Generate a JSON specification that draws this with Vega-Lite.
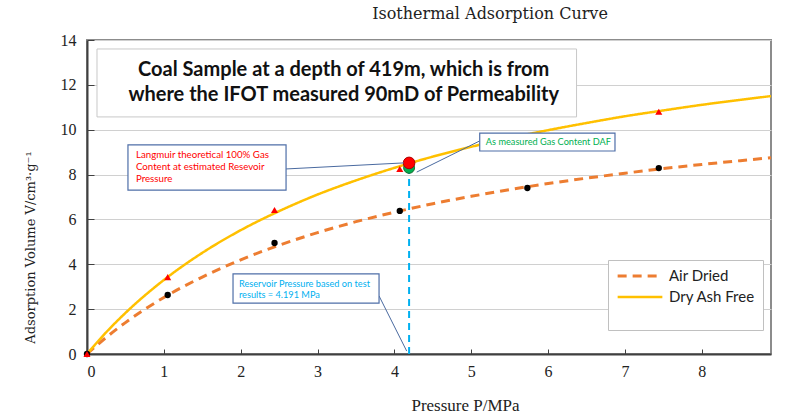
{
  "$schema": "https://vega.github.io/schema/vega-lite/v6.json",
  "width": 684,
  "height": 314,
  "autosize": {"type": "none"},
  "padding": {"left": 87, "top": 40, "right": 29, "bottom": 61},
  "background": "white",
  "title": {"text": "Isothermal Adsorption Curve", "font": "DejaVu Serif", "fontSize": 16, "fontWeight": "normal", "color": "#222222", "anchor": "middle", "dx": 61, "offset": 10},
  "config": {"view": {"stroke": "#8c8c8c", "strokeWidth": 2}},
  "datasets": {
    "curves": [
      {"series": "Air Dried", "P": 0, "V": 0},
      {"series": "Air Dried", "P": 0.25, "V": 0.74},
      {"series": "Air Dried", "P": 0.5, "V": 1.4},
      {"series": "Air Dried", "P": 1, "V": 2.52},
      {"series": "Air Dried", "P": 1.5, "V": 3.43},
      {"series": "Air Dried", "P": 2, "V": 4.2},
      {"series": "Air Dried", "P": 2.5, "V": 4.85},
      {"series": "Air Dried", "P": 3, "V": 5.41},
      {"series": "Air Dried", "P": 3.5, "V": 5.9},
      {"series": "Air Dried", "P": 4, "V": 6.32},
      {"series": "Air Dried", "P": 4.5, "V": 6.7},
      {"series": "Air Dried", "P": 5, "V": 7.03},
      {"series": "Air Dried", "P": 5.5, "V": 7.33},
      {"series": "Air Dried", "P": 6, "V": 7.6},
      {"series": "Air Dried", "P": 6.5, "V": 7.84},
      {"series": "Air Dried", "P": 7, "V": 8.06},
      {"series": "Air Dried", "P": 7.5, "V": 8.27},
      {"series": "Air Dried", "P": 8, "V": 8.45},
      {"series": "Air Dried", "P": 8.5, "V": 8.62},
      {"series": "Air Dried", "P": 8.9, "V": 8.75},
      {"series": "Dry Ash Free", "P": 0, "V": 0},
      {"series": "Dry Ash Free", "P": 0.25, "V": 0.97},
      {"series": "Dry Ash Free", "P": 0.5, "V": 1.83},
      {"series": "Dry Ash Free", "P": 1, "V": 3.3},
      {"series": "Dry Ash Free", "P": 1.5, "V": 4.51},
      {"series": "Dry Ash Free", "P": 2, "V": 5.52},
      {"series": "Dry Ash Free", "P": 2.5, "V": 6.37},
      {"series": "Dry Ash Free", "P": 3, "V": 7.11},
      {"series": "Dry Ash Free", "P": 3.5, "V": 7.74},
      {"series": "Dry Ash Free", "P": 4, "V": 8.3},
      {"series": "Dry Ash Free", "P": 4.5, "V": 8.8},
      {"series": "Dry Ash Free", "P": 5, "V": 9.24},
      {"series": "Dry Ash Free", "P": 5.5, "V": 9.63},
      {"series": "Dry Ash Free", "P": 6, "V": 9.98},
      {"series": "Dry Ash Free", "P": 6.5, "V": 10.3},
      {"series": "Dry Ash Free", "P": 7, "V": 10.6},
      {"series": "Dry Ash Free", "P": 7.5, "V": 10.86},
      {"series": "Dry Ash Free", "P": 8, "V": 11.11},
      {"series": "Dry Ash Free", "P": 8.5, "V": 11.33},
      {"series": "Dry Ash Free", "P": 8.9, "V": 11.5}
    ],
    "airPoints": [
      {"P": 0, "V": 0},
      {"P": 1.05, "V": 2.63},
      {"P": 2.44, "V": 4.95},
      {"P": 4.07, "V": 6.38},
      {"P": 5.73, "V": 7.4},
      {"P": 7.44, "V": 8.29}
    ],
    "dafPoints": [
      {"P": 0, "V": 0},
      {"P": 1.05, "V": 3.43},
      {"P": 2.44, "V": 6.42},
      {"P": 4.07, "V": 8.25},
      {"P": 7.44, "V": 10.8}
    ],
    "measured": [{"P": 4.191, "V": 8.3}],
    "langmuir": [{"P": 4.191, "V": 8.52}]
  },
  "layer": [
    {
      "data": {"name": "curves"},
      "mark": {"type": "line", "interpolate": "monotone"},
      "encoding": {
        "x": {
          "field": "P", "type": "quantitative",
          "scale": {"domain": [0, 8.9], "nice": false, "zero": true},
          "axis": {
            "values": [0, 1, 2, 3, 4, 5, 6, 7, 8], "format": "d", "grid": false,
            "labelFont": "Liberation Serif", "labelFontSize": 16, "labelColor": "#222222",
            "tickSize": -5, "tickColor": "#404040", "tickWidth": 1,
            "domainColor": "#404040", "domainWidth": 2, "labelPadding": 14,
            "title": "Pressure P/MPa", "titleFont": "Liberation Serif", "titleFontSize": 17,
            "titleFontWeight": "normal", "titleColor": "#222222", "titleX": 378, "titleY": 51,
            "titleBaseline": "middle", "titleAlign": "center"
          }
        },
        "y": {
          "field": "V", "type": "quantitative",
          "scale": {"domain": [0, 14], "nice": false},
          "axis": {
            "values": [0, 2, 4, 6, 8, 10, 12, 14], "format": "d", "grid": true, "gridColor": "#d0d0d0", "gridWidth": 1,
            "labelFont": "Liberation Serif", "labelFontSize": 16, "labelColor": "#222222",
            "tickSize": -7, "tickColor": "#404040", "tickWidth": 1,
            "domainColor": "#404040", "domainWidth": 2, "labelPadding": 18,
            "title": "Adsorption Volume  V/cm³·g⁻¹", "titleFont": "DejaVu Serif", "titleFontSize": 13,
            "titleFontWeight": "normal", "titleColor": "#222222", "titleX": -57, "titleY": 207,
            "titleAngle": -90, "titleBaseline": "middle", "titleAlign": "center"
          }
        },
        "color": {
          "field": "series", "type": "nominal",
          "scale": {"domain": ["Air Dried", "Dry Ash Free"], "range": ["#ED7D31", "#FFC000"]},
          "legend": {
            "title": " ", "orient": "none", "legendX": 521, "legendY": 220,
            "symbolType": "stroke", "symbolSize": 2000, "symbolStrokeWidth": 3, "clipHeight": 16,
            "rowPadding": 5, "labelFont": "Lato", "labelFontSize": 15, "labelColor": "#222222",
            "labelOffset": 5, "padding": 8, "fillColor": "white", "strokeColor": "#c0c0c0",
            "titleOrient": "bottom", "titleFontSize": 12, "titlePadding": 6
          }
        },
        "strokeDash": {
          "field": "series", "type": "nominal",
          "scale": {"domain": ["Air Dried", "Dry Ash Free"], "range": [[9, 6], [1, 0]]},
          "legend": {
            "title": " ", "orient": "none", "legendX": 521, "legendY": 220,
            "symbolType": "stroke", "symbolSize": 2000, "symbolStrokeWidth": 3, "clipHeight": 16,
            "rowPadding": 5, "labelFont": "Lato", "labelFontSize": 15, "labelColor": "#222222",
            "labelOffset": 5, "padding": 8, "fillColor": "white", "strokeColor": "#c0c0c0",
            "titleOrient": "bottom", "titleFontSize": 12, "titlePadding": 6
          }
        },
        "strokeWidth": {
          "field": "series", "type": "nominal",
          "scale": {"domain": ["Air Dried", "Dry Ash Free"], "range": [3, 2.5]},
          "legend": null
        }
      }
    },
    {
      "data": {"name": "airPoints"},
      "mark": {"type": "point", "shape": "circle", "filled": true, "color": "#000000", "size": 40, "opacity": 1},
      "encoding": {"x": {"field": "P", "type": "quantitative"}, "y": {"field": "V", "type": "quantitative"}}
    },
    {
      "data": {"name": "dafPoints"},
      "mark": {"type": "point", "shape": "triangle-up", "filled": true, "color": "#FF0000", "size": 50, "opacity": 1},
      "encoding": {"x": {"field": "P", "type": "quantitative"}, "y": {"field": "V", "type": "quantitative"}}
    },
    {
      "data": {"values": [{}]},
      "mark": {"type": "rule", "color": "#00B0F0", "strokeWidth": 2, "strokeDash": [7, 5]},
      "encoding": {"x": {"datum": 4.191}, "y": {"datum": 0}, "y2": {"datum": 8.3}}
    },
    {
      "data": {"name": "measured"},
      "mark": {"type": "point", "shape": "circle", "filled": true, "color": "#00B050", "stroke": "#1E6B32", "strokeWidth": 1, "size": 120, "opacity": 1},
      "encoding": {"x": {"field": "P", "type": "quantitative"}, "y": {"field": "V", "type": "quantitative"}}
    },
    {
      "data": {"name": "langmuir"},
      "mark": {"type": "point", "shape": "circle", "filled": true, "color": "#FF0000", "stroke": "#B00000", "strokeWidth": 1, "size": 135, "opacity": 1},
      "encoding": {"x": {"field": "P", "type": "quantitative"}, "y": {"field": "V", "type": "quantitative"}}
    },
    {
      "data": {"values": [{}]},
      "mark": {"type": "rule", "color": "#4A6AA0", "strokeWidth": 1},
      "encoding": {"x": {"datum": 2.59}, "y": {"datum": 8.25}, "x2": {"datum": 4.12}, "y2": {"datum": 8.52}}
    },
    {
      "data": {"values": [{}]},
      "mark": {"type": "rule", "color": "#4A6AA0", "strokeWidth": 1},
      "encoding": {"x": {"datum": 5.11}, "y": {"datum": 9.5}, "x2": {"datum": 4.29}, "y2": {"datum": 8.11}}
    },
    {
      "data": {"values": [{}]},
      "mark": {"type": "rule", "color": "#4A6AA0", "strokeWidth": 1},
      "encoding": {"x": {"datum": 3.8}, "y": {"datum": 2.59}, "x2": {"datum": 4.16}, "y2": {"datum": 0.13}}
    },
    {
      "data": {"values": [{}]},
      "mark": {"type": "rect", "fill": "white", "stroke": "#c8c8c8", "strokeWidth": 1},
      "encoding": {"x": {"datum": 0.13}, "x2": {"datum": 6.37}, "y": {"datum": 13.6}, "y2": {"datum": 10.57}}
    },
    {
      "data": {"values": [{}]},
      "mark": {"type": "text", "text": ["Coal Sample  at a depth of 419m, which is from", "where the IFOT measured 90mD of Permeability"], "font": "Lato", "fontWeight": "bold", "fontSize": 20, "color": "#111111", "align": "center", "baseline": "middle", "lineHeight": 25},
      "encoding": {"x": {"datum": 3.34}, "y": {"datum": 12.66}}
    },
    {
      "data": {"values": [{}]},
      "mark": {"type": "rect", "fill": "white", "stroke": "#4F6FA8", "strokeWidth": 1.2},
      "encoding": {"x": {"datum": 0.533}, "x2": {"datum": 2.59}, "y": {"datum": 9.32}, "y2": {"datum": 7.31}}
    },
    {
      "data": {"values": [{}]},
      "mark": {"type": "text", "text": ["Langmuir theoretical 100% Gas", "Content at estimated Resevoir", "Pressure"], "font": "Lato", "fontSize": 9.7, "color": "#FF0000", "align": "left", "baseline": "middle", "lineHeight": 12},
      "encoding": {"x": {"datum": 0.637}, "y": {"datum": 8.87}}
    },
    {
      "data": {"values": [{}]},
      "mark": {"type": "rect", "fill": "white", "stroke": "#4F6FA8", "strokeWidth": 1.2},
      "encoding": {"x": {"datum": 5.11}, "x2": {"datum": 6.87}, "y": {"datum": 9.85}, "y2": {"datum": 9.05}}
    },
    {
      "data": {"values": [{}]},
      "mark": {"type": "text", "text": "As measured Gas Content DAF", "font": "Lato", "fontSize": 9.2, "color": "#00B050", "align": "left", "baseline": "middle"},
      "encoding": {"x": {"datum": 5.19}, "y": {"datum": 9.45}}
    },
    {
      "data": {"values": [{}]},
      "mark": {"type": "rect", "fill": "white", "stroke": "#4F6FA8", "strokeWidth": 1.2},
      "encoding": {"x": {"datum": 1.9}, "x2": {"datum": 3.8}, "y": {"datum": 3.57}, "y2": {"datum": 2.27}}
    },
    {
      "data": {"values": [{}]},
      "mark": {"type": "text", "text": ["Reservoir Pressure based on test", "results = 4.191 MPa"], "font": "Lato", "fontSize": 9.2, "color": "#00B0F0", "align": "left", "baseline": "middle", "lineHeight": 11},
      "encoding": {"x": {"datum": 1.977}, "y": {"datum": 3.12}}
    }
  ]
}
